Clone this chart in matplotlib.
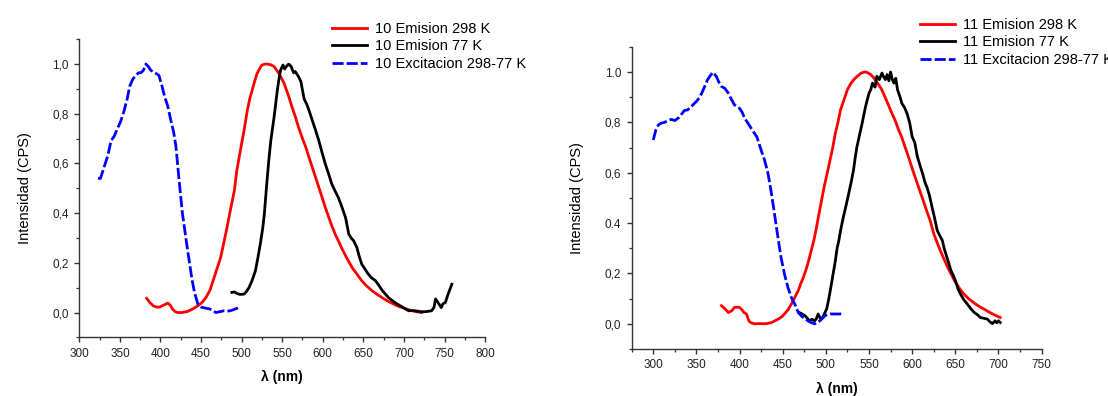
import matplotlib
matplotlib.use("Agg")
import matplotlib.pyplot as plt
from matplotlib.ticker import MultipleLocator, FixedLocator, FixedFormatter

plt.rcParams['font.family'] = ['Liberation Sans', 'DejaVu Sans']

# ---- compuesto 10 ----
ex10_x = [323, 326, 330, 335, 339, 343, 347, 351, 355, 359,
          362, 366, 370, 373, 376, 379, 382, 385, 388, 393,
          398, 402, 405, 409, 413, 416, 419, 423, 427, 430,
          433, 436, 439, 442, 446, 450, 455, 460, 464, 468,
          474, 478, 482, 487, 491, 495, 499]
ex10_y = [0.54, 0.54, 0.58, 0.63, 0.69, 0.71, 0.74, 0.77, 0.81, 0.86,
          0.91, 0.94, 0.955, 0.965, 0.965, 0.975, 1.0, 0.99, 0.975, 0.965,
          0.955, 0.91, 0.87, 0.83, 0.77, 0.73, 0.67, 0.53, 0.40, 0.33,
          0.26, 0.195, 0.13, 0.08, 0.035, 0.022, 0.018, 0.015, 0.01, 0.0,
          0.004, 0.007, 0.005, 0.008, 0.013, 0.018, 0.023]

em10_298_x = [383, 387, 391, 395, 399, 404, 409, 412, 415, 418,
              421, 426, 433, 440, 446, 451, 456, 461, 466, 470,
              474, 478, 482, 486, 491, 494, 497, 500, 503, 507,
              510, 513, 516, 519, 522, 525, 529, 532, 536, 540,
              546, 552, 558, 562, 566, 570, 575, 579, 583, 587,
              591, 595, 599, 603, 607, 611, 616, 620, 624, 628,
              632, 636, 642, 648, 654, 661, 667, 673, 679, 685,
              691, 698, 704, 710, 716, 722]
em10_298_y = [0.057, 0.04, 0.027, 0.022, 0.022, 0.03, 0.038, 0.03, 0.013, 0.004,
              0.0, 0.0, 0.004, 0.015, 0.027, 0.04, 0.06, 0.09, 0.14, 0.18,
              0.22, 0.28, 0.343, 0.41, 0.49, 0.57, 0.626, 0.68, 0.733, 0.814,
              0.86, 0.895, 0.93, 0.962, 0.98, 0.996, 1.0, 1.0, 0.997, 0.99,
              0.962, 0.925, 0.87, 0.828, 0.79, 0.747, 0.70, 0.666, 0.625, 0.585,
              0.545, 0.505, 0.465, 0.424, 0.387, 0.35, 0.31, 0.283, 0.255, 0.229,
              0.205, 0.182, 0.155, 0.128, 0.107, 0.087, 0.073, 0.06, 0.048, 0.038,
              0.028, 0.02, 0.013, 0.007, 0.003, 0.0]

em10_77_x = [488, 491, 494, 498, 503, 506, 509, 513, 517, 520,
             523, 526, 528, 530, 532, 534, 536, 538, 540, 542,
             544, 546, 548, 551, 553, 555, 558, 561, 564, 566,
             570, 573, 577, 580, 583, 587, 591, 595, 599, 603,
             607, 611, 615, 619, 623, 628, 632, 635, 638, 642,
             645, 648, 652, 656, 660, 665, 669, 673, 677, 681,
             685, 689, 693, 697, 701, 706, 710, 714, 718, 722,
             728, 734, 737, 739, 742, 744, 746, 748, 751, 754,
             759]
em10_77_y = [0.081, 0.083, 0.077, 0.073, 0.074, 0.085, 0.10, 0.13, 0.168, 0.22,
             0.276, 0.34, 0.397, 0.48, 0.558, 0.63, 0.693, 0.74, 0.787, 0.84,
             0.895, 0.94, 0.976, 0.996, 0.98, 0.99, 1.0, 0.99, 0.965, 0.97,
             0.95, 0.93, 0.86, 0.84, 0.814, 0.774, 0.735, 0.693, 0.645, 0.599,
             0.56, 0.518, 0.49, 0.464, 0.43, 0.383, 0.316, 0.30, 0.289, 0.262,
             0.225, 0.195, 0.175, 0.155, 0.14, 0.128, 0.11, 0.09, 0.075, 0.06,
             0.05, 0.04, 0.032, 0.024, 0.016, 0.007, 0.008, 0.007, 0.005, 0.003,
             0.004, 0.007, 0.02, 0.055, 0.04, 0.03, 0.02, 0.035, 0.04, 0.07,
             0.114]

# ---- compuesto 11 ----
ex11_x = [300, 303, 306, 309, 313, 317, 321, 325, 330, 336,
          340, 344, 350, 354, 358, 363, 366, 369, 373, 376,
          379, 383, 387, 390, 394, 397, 400, 403, 406, 411,
          416, 420, 425, 429, 433, 437, 441, 445, 448, 452,
          456, 460, 464, 468, 472, 476, 480, 483, 487, 490,
          493, 496, 499, 502, 505, 510, 515, 520]
ex11_y = [0.73, 0.77, 0.79, 0.797, 0.80, 0.807, 0.812, 0.807, 0.82, 0.847,
          0.85, 0.863, 0.883, 0.90, 0.93, 0.97, 0.985, 0.999, 0.983, 0.96,
          0.943, 0.935, 0.916, 0.895, 0.87, 0.862, 0.856, 0.84, 0.816, 0.79,
          0.763, 0.743, 0.69, 0.65, 0.597, 0.517, 0.424, 0.331, 0.265, 0.198,
          0.145, 0.105, 0.078, 0.045, 0.03, 0.019, 0.01, 0.005, 0.0, 0.004,
          0.012, 0.022, 0.032, 0.037, 0.039, 0.039, 0.039, 0.04]

em11_298_x = [379, 383, 387, 391, 394, 397, 400, 403, 405, 408,
              411, 414, 418, 424, 429, 433, 437, 441, 445, 449,
              452, 456, 460, 464, 468, 471, 474, 477, 480, 483,
              486, 489, 492, 495, 498, 501, 504, 508, 511, 514,
              517, 521, 525, 529, 533, 537, 541, 545, 548, 552,
              556, 560, 564, 568, 572, 576, 580, 584, 588, 592,
              596, 600, 604, 608, 612, 617, 621, 625, 629, 633,
              637, 641, 645, 649, 655, 660, 666, 672, 678, 684,
              690, 695, 702]
em11_298_y = [0.072, 0.06, 0.045, 0.052, 0.065, 0.066, 0.065, 0.055, 0.045, 0.039,
              0.01, 0.003, 0.0, 0.001, 0.0, 0.002, 0.005, 0.012, 0.019, 0.028,
              0.039, 0.055, 0.078, 0.105, 0.132, 0.16, 0.185, 0.215, 0.25, 0.29,
              0.33, 0.38, 0.437, 0.49, 0.544, 0.59, 0.637, 0.70, 0.757, 0.80,
              0.85, 0.89, 0.93, 0.955, 0.972, 0.985, 0.996, 1.0, 0.998, 0.99,
              0.975, 0.955, 0.935, 0.905, 0.873, 0.84, 0.81, 0.773, 0.74, 0.70,
              0.66, 0.617, 0.577, 0.537, 0.497, 0.447, 0.408, 0.358, 0.322, 0.288,
              0.256, 0.225, 0.198, 0.172, 0.14, 0.118, 0.098, 0.082, 0.068, 0.057,
              0.045, 0.036, 0.025]

em11_77_x = [469, 472, 476, 479, 481, 484, 487, 489, 491, 493,
             495, 497, 499, 501, 503, 505, 507, 509, 511, 513,
             515, 517, 520, 523, 526, 529, 532, 534, 536, 539,
             542, 544, 546, 548, 550, 552, 554, 557, 559, 562,
             565, 567, 569, 571, 573, 575, 577, 579, 581, 583,
             586, 588, 591, 594, 597, 600, 603, 606, 609, 612,
             615, 617, 620, 623, 626, 629, 632, 635, 637, 639,
             642, 645, 648, 650, 653, 656, 660, 664, 668, 672,
             676, 679, 683, 687, 690, 693, 696, 698, 700, 702]
em11_77_y = [0.045, 0.04, 0.032, 0.02, 0.012, 0.018, 0.012, 0.02, 0.039, 0.025,
             0.019, 0.03, 0.045, 0.06, 0.092, 0.13, 0.17, 0.21, 0.25, 0.30,
             0.33, 0.37, 0.42, 0.464, 0.51, 0.557, 0.61, 0.66, 0.703, 0.75,
             0.796, 0.83, 0.863, 0.89, 0.916, 0.93, 0.956, 0.94, 0.983, 0.97,
             0.996, 0.98, 0.97, 0.99, 0.965, 1.0, 0.97, 0.956, 0.975, 0.93,
             0.90, 0.876, 0.86, 0.836, 0.80, 0.743, 0.72, 0.664, 0.63, 0.597,
             0.56, 0.544, 0.51, 0.464, 0.42, 0.371, 0.35, 0.331, 0.30, 0.278,
             0.245, 0.211, 0.19, 0.172, 0.14, 0.118, 0.095, 0.078, 0.06, 0.045,
             0.035, 0.025, 0.022, 0.019, 0.008, 0.001, 0.012, 0.004, 0.012, 0.005]

RED = '#ff0000'
BLUE = '#0000ff'
AXC = '#333333'

fig = plt.figure(figsize=(11.08, 3.96), dpi=100)
ax1 = fig.add_axes([0.0716, 0.148, 0.3662, 0.753])
ax2 = fig.add_axes([0.5701, 0.1187, 0.370, 0.763])


def style_axes(ax, xlim, ylabels):
    ax.set_xlim(*xlim)
    ax.set_ylim(-0.1, 1.1)
    for s in ('top', 'right'):
        ax.spines[s].set_visible(False)
    for s in ('left', 'bottom'):
        ax.spines[s].set_color(AXC)
        ax.spines[s].set_linewidth(1.0)
    ax.xaxis.set_major_locator(MultipleLocator(50))
    ax.xaxis.set_minor_locator(MultipleLocator(25))
    ax.yaxis.set_major_locator(FixedLocator([0, 0.2, 0.4, 0.6, 0.8, 1.0]))
    ax.yaxis.set_major_formatter(FixedFormatter(ylabels))
    ax.yaxis.set_minor_locator(MultipleLocator(0.1))
    ax.tick_params(which='major', direction='out', length=3.5, width=1.0,
                   color=AXC, labelsize=8.5, pad=4, labelcolor='#222222')
    ax.tick_params(which='minor', direction='out', length=2.2, width=0.9, color=AXC)
    ax.set_xlabel('λ (nm)', fontsize=10, fontweight='bold')
    ax.set_ylabel('Intensidad (CPS)', fontsize=10.5)
    ax.xaxis.set_label_coords(0.5, -0.108)
    ax.yaxis.set_label_coords(-0.117, 0.5)


lw = 2.0
dash = (0, (4, 1.1))

ax1.plot(em10_298_x, em10_298_y, color=RED, lw=lw, label='10 Emision 298 K')
ax1.plot(em10_77_x, em10_77_y, color='black', lw=lw, label='10 Emision 77 K')
ax1.plot(ex10_x, ex10_y, color=BLUE, lw=lw, linestyle=dash, label='10 Excitacion 298-77 K')
style_axes(ax1, (300, 800), ['0,0', '0,2', '0,4', '0,6', '0,8', '1,0'])

ax2.plot(em11_298_x, em11_298_y, color=RED, lw=lw, label='11 Emision 298 K')
ax2.plot(em11_77_x, em11_77_y, color='black', lw=lw, label='11 Emision 77 K')
ax2.plot(ex11_x, ex11_y, color=BLUE, lw=lw, linestyle=dash, label='11 Excitacion 298-77 K')
style_axes(ax2, (275, 750), ['0,0', '0,2', '0.4', '0,6', '0,8', '1.0'])

leg_kw = dict(loc='upper left', frameon=False, fontsize=10.5, handlelength=2.4,
              handletextpad=0.55, labelspacing=0.25, borderpad=0, borderaxespad=0)
ax1.legend(bbox_to_anchor=(0.2996, 0.945), bbox_transform=fig.transFigure, **leg_kw)
ax2.legend(bbox_to_anchor=(0.8303, 0.955), bbox_transform=fig.transFigure, **leg_kw)

fig.savefig('out.png', dpi=100)
